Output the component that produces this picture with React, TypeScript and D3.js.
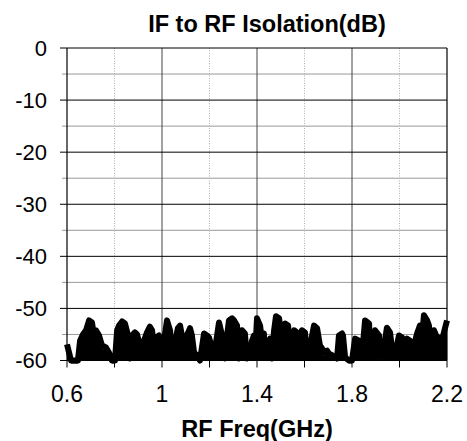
import React from "react";
import * as d3 from "d3";

const freqs = [
  0.6, 0.617, 0.629, 0.646, 0.655, 0.667, 0.68, 0.693, 0.705, 0.714, 0.722, 0.735, 0.747, 0.764, 0.777, 0.789,
  0.802, 0.811, 0.819, 0.832, 0.844, 0.857, 0.865, 0.874, 0.886, 0.895, 0.907, 0.916, 0.924, 0.937, 0.949, 0.958,
  0.966, 0.975, 0.987, 1.0, 1.021, 1.034, 1.042, 1.055, 1.067, 1.076, 1.084, 1.093, 1.105, 1.118, 1.126, 1.135,
  1.147, 1.16, 1.177, 1.189, 1.198, 1.211, 1.219, 1.232, 1.24, 1.253, 1.265, 1.274, 1.282, 1.295, 1.303, 1.316,
  1.324, 1.337, 1.349, 1.358, 1.371, 1.379, 1.387, 1.392, 1.4, 1.413, 1.421, 1.429, 1.434, 1.442, 1.455, 1.463,
  1.472, 1.48, 1.493, 1.505, 1.518, 1.531, 1.539, 1.547, 1.556, 1.568, 1.577, 1.589, 1.602, 1.611, 1.623, 1.632,
  1.64, 1.653, 1.665, 1.674, 1.682, 1.695, 1.703, 1.716, 1.724, 1.737, 1.745, 1.758, 1.762, 1.771, 1.787, 1.8,
  1.813, 1.829, 1.842, 1.855, 1.872, 1.876, 1.888, 1.897, 1.914, 1.918, 1.931, 1.939, 1.947, 1.96, 1.968, 1.981,
  1.989, 1.998, 2.011, 2.019, 2.032, 2.044, 2.053, 2.061, 2.074, 2.086, 2.095, 2.103, 2.116, 2.124, 2.128, 2.137,
  2.145, 2.158, 2.166, 2.171, 2.179, 2.187, 2.2,
];

const isolation = [
  -56.9, -60, -60, -60, -56.2, -55.0, -54.2, -52.3, -52.7, -55.2, -54.2, -55.2, -57.1, -57.5, -58.5, -60,
  -60, -54.2, -53.3, -52.5, -52.9, -55.2, -59.6, -55.2, -54.6, -55.0, -57.1, -59.0, -56.2, -54.6, -53.5, -54.2,
  -57.1, -55.6, -55.2, -59.0, -52.3, -54.2, -59.0, -56.5, -53.8, -53.3, -55.2, -59.0, -55.2, -53.8, -55.2, -58.5,
  -59.0, -60, -54.8, -55.2, -55.6, -57.7, -59.0, -55.2, -52.7, -55.2, -59.6, -55.2, -52.3, -51.9, -52.3, -53.3,
  -59.6, -54.2, -54.8, -59.6, -58.5, -56.2, -55.2, -59.0, -51.9, -53.3, -56.2, -54.8, -58.5, -57.1, -55.8, -59.6,
  -54.2, -51.5, -51.9, -56.5, -52.9, -53.3, -58.5, -55.2, -54.2, -54.6, -58.5, -54.2, -54.6, -59.0, -57.7, -55.2,
  -53.3, -53.8, -57.1, -57.7, -58.5, -58.1, -58.7, -59.0, -59.4, -59.6, -55.2, -54.8, -55.2, -59.4, -60, -60,
  -55.8, -56.2, -59.0, -52.3, -52.9, -59.0, -56.2, -54.2, -55.2, -59.0, -59.4, -56.2, -53.7, -54.6, -57.5, -59.0,
  -57.1, -55.2, -55.6, -57.1, -55.8, -56.2, -58.1, -57.1, -54.8, -53.3, -55.2, -51.3, -52.3, -53.3, -57.1, -56.2,
  -54.2, -55.6, -58.1, -55.6, -56.2, -54.6, -52.3,
];

const yTicks = [0, -10, -20, -30, -40, -50, -60];
const yMinor = [-5, -15, -25, -35, -45, -55];
const xLabelTicks = [0.6, 1.0, 1.4, 1.8, 2.2];
const xSolidGrid = [1.0, 1.4, 1.8];
const xDottedGrid = [0.8, 1.2, 1.6, 2.0];
const xAllTicks = [0.6, 0.8, 1.0, 1.2, 1.4, 1.6, 1.8, 2.0, 2.2];

const title = "IF to RF Isolation(dB)";
const xTitle = "RF Freq(GHz)";

export default function App() {
  const W = 467;
  const H = 441;
  const left = 67;
  const right = 447;
  const top = 48;
  const bottom = 360.5;
  const x = d3.scaleLinear().domain([0.6, 2.2]).range([left, right]);
  const y = d3.scaleLinear().domain([-60, 0]).range([bottom, top]);
  const pts = freqs.map((f, i) => [f, Math.max(-60, isolation[i])] as [number, number]);
  const line = d3
    .line<[number, number]>()
    .x((d) => x(d[0]))
    .y((d) => y(d[1]));
  const area = d3
    .area<[number, number]>()
    .x((d) => x(d[0]))
    .y0(y(-60))
    .y1((d) => y(d[1]) + 3);
  const font = "'Liberation Sans', Arial, sans-serif";

  return (
    <svg
      width={W}
      height={H}
      style={{ position: "fixed", left: 0, top: 0, background: "#fff" }}
      fontFamily={font}
    >
      <rect x={0} y={0} width={W} height={H} fill="#fff" />
      {yMinor.map((v) => (
        <line key={"m" + v} x1={62} x2={right} y1={y(v)} y2={y(v)} stroke="#999" strokeWidth={1} />
      ))}
      {xDottedGrid.map((v) => (
        <line
          key={"d" + v}
          x1={x(v)}
          x2={x(v)}
          y1={top}
          y2={bottom}
          stroke="#b0b0b0"
          strokeWidth={1}
          strokeDasharray="1,1.5"
        />
      ))}
      {xSolidGrid.map((v) => (
        <line key={"s" + v} x1={x(v)} x2={x(v)} y1={top} y2={bottom} stroke="#444" strokeWidth={1} />
      ))}
      {yTicks.map((v) => (
        <line key={"M" + v} x1={60} x2={right} y1={y(v)} y2={y(v)} stroke="#000" strokeWidth={1} />
      ))}
      {xAllTicks.map((v) => (
        <line key={"t" + v} x1={x(v)} x2={x(v)} y1={bottom} y2={bottom + 7} stroke="#000" strokeWidth={1} />
      ))}
      <line x1={left} x2={left} y1={top} y2={bottom} stroke="#000" strokeWidth={1.2} />
      <line x1={right} x2={right} y1={top} y2={bottom} stroke="#000" strokeWidth={1.2} />
      <path d={area(pts) || ""} fill="#000" stroke="none" />
      <path
        d={line(pts) || ""}
        fill="none"
        stroke="#000"
        strokeWidth={6}
        strokeLinejoin="round"
        strokeLinecap="butt"
      />
      {yTicks.map((v) => (
        <text key={"yl" + v} x={47} y={y(v)} dy="0.36em" textAnchor="end" fontSize={22} fill="#000">
          {v}
        </text>
      ))}
      {xLabelTicks.map((v) => (
        <text key={"xl" + v} x={x(v)} y={402} textAnchor="middle" fontSize={23} fill="#000">
          {String(v)}
        </text>
      ))}
      <text x={267} y={32} textAnchor="middle" fontSize={23.5} fontWeight="bold" fill="#000">
        {title}
      </text>
      <text x={257} y={437} textAnchor="middle" fontSize={23.5} fontWeight="bold" fill="#000">
        {xTitle}
      </text>
    </svg>
  );
}
